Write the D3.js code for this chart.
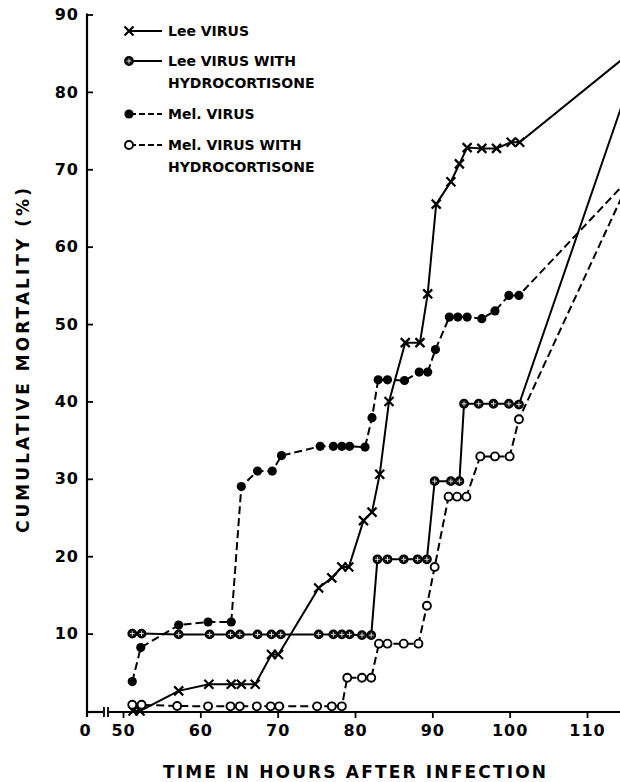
<!DOCTYPE html>
<html>
<head>
<meta charset="utf-8">
<script src="https://cdn.jsdelivr.net/npm/d3@7"></script>
<style>
    body { margin: 0; background: #fff; }
    svg { display: block; }
</style>
</head>
<body>
<svg id="chart"></svg>
<script>
// ---- data ----
const xTicks = [50, 60, 70, 80, 90, 100, 110];
const yTicks = [10, 20, 30, 40, 50, 60, 70, 80, 90];

// Lee virus
const leeHours = [51.3, 52.2, 57.2, 61.1, 64.0, 65.3, 67.1, 69.2, 70.1, 75.3, 77.0, 78.3, 79.2, 81.1, 82.2, 83.2, 84.4, 86.5, 88.4, 89.4, 90.5, 92.4, 93.5, 94.5, 96.4, 98.3, 100.2, 101.3, 120];
const leeMort = [0, 0, 2.6, 3.45, 3.45, 3.45, 3.45, 7.3, 7.3, 15.9, 17.2, 18.6, 18.6, 24.6, 25.7, 30.6, 40.0, 47.6, 47.6, 53.9, 65.5, 68.4, 70.7, 72.8, 72.7, 72.7, 73.5, 73.5, 88.6];

// Lee virus with hydrocortisone
const leeHcHours = [51.2, 52.4, 57.2, 61.2, 63.9, 65.1, 67.4, 69.2, 70.4, 75.3, 77.2, 78.3, 79.3, 80.9, 82.1, 82.9, 84.2, 86.3, 88.1, 89.3, 90.3, 92.4, 93.5, 94.1, 96.0, 97.9, 99.9, 101.2, 118];
const leeHcMort = [10, 10, 9.9, 9.9, 9.9, 9.9, 9.9, 9.9, 9.9, 9.9, 9.9, 9.9, 9.9, 9.8, 9.8, 19.6, 19.6, 19.6, 19.6, 19.6, 29.7, 29.7, 29.7, 39.7, 39.7, 39.7, 39.7, 39.6, 88.4];

// Mel. virus
const melHours = [51.2, 52.3, 57.2, 61.0, 64.0, 65.3, 67.4, 69.3, 70.5, 75.5, 77.2, 78.3, 79.3, 81.3, 82.2, 83.0, 84.2, 86.4, 88.3, 89.4, 90.4, 92.2, 93.3, 94.5, 96.4, 98.1, 99.9, 101.2, 120];
const melMort = [3.8, 8.2, 11.1, 11.5, 11.5, 29.0, 31.0, 31.0, 33.0, 34.2, 34.2, 34.2, 34.2, 34.1, 37.9, 42.8, 42.8, 42.7, 43.8, 43.8, 46.7, 50.9, 50.9, 50.9, 50.7, 51.7, 53.7, 53.7, 73.6];

// Mel. virus with hydrocortisone
const melHcHours = [51.2, 52.4, 57.0, 61.0, 63.9, 65.1, 67.3, 69.1, 70.2, 75.1, 77.0, 78.3, 79.0, 80.9, 82.1, 83.1, 84.2, 86.3, 88.2, 89.3, 90.3, 92.1, 93.2, 94.4, 96.2, 98.1, 100.0, 101.2, 120];
const melHcMort = [0.8, 0.8, 0.65, 0.6, 0.6, 0.6, 0.6, 0.6, 0.6, 0.6, 0.6, 0.6, 4.3, 4.3, 4.3, 8.7, 8.7, 8.7, 8.7, 13.6, 18.6, 27.7, 27.7, 27.7, 32.9, 32.9, 32.9, 37.7, 78.3];

const legendLines = [
    ["Lee VIRUS"],
    ["Lee VIRUS WITH", "HYDROCORTISONE"],
    ["Mel. VIRUS"],
    ["Mel. VIRUS WITH", "HYDROCORTISONE"]
];

const W = 620, H = 782;
const svg = d3.select("#chart").attr("width", W).attr("height", H);

const x = d3.scaleLinear().domain([50, 110]).range([123, 587]);
const y = d3.scaleLinear().domain([0, 90]).range([711, 14.5]);
const axisX = 87;
const FONT = "'DejaVu Sans', sans-serif";

const zip = (t, v) => t.map((d, i) => ({ t: d, v: v[i] }));
const series = [
    { data: zip(leeHours, leeMort), dash: null, marker: "x" },
    { data: zip(leeHcHours, leeHcMort), dash: null, marker: "theta" },
    { data: zip(melHours, melMort), dash: "8,4", marker: "dot" },
    { data: zip(melHcHours, melHcMort), dash: "8,4", marker: "open" }
];

// ---- axes ----
svg.append("line")
    .attr("x1", axisX).attr("x2", axisX)
    .attr("y1", y(90) - 1).attr("y2", y(0) + 6)
    .attr("stroke", "#000").attr("stroke-width", 2.2);

const yAxis = svg.append("g")
    .attr("transform", `translate(${axisX},0)`)
    .call(d3.axisLeft(y).tickValues(yTicks).tickSizeInner(-6).tickSizeOuter(0).tickPadding(8));
yAxis.select(".domain").remove();
yAxis.selectAll("line").attr("stroke", "#000").attr("stroke-width", 1.8);
yAxis.selectAll("text")
    .attr("fill", "#000")
    .style("font-family", FONT).style("font-weight", "bold")
    .style("font-size", "16px").style("letter-spacing", "1px");

// x axis: short stub from 0, break marks, then the 50..110 part
const axY = y(0) + 1;
svg.append("line").attr("x1", axisX).attr("x2", 103).attr("y1", axY).attr("y2", axY)
    .attr("stroke", "#000").attr("stroke-width", 2.2);
[104, 108].forEach(bx => {
    svg.append("line").attr("x1", bx).attr("x2", bx).attr("y1", axY - 5).attr("y2", axY + 5)
        .attr("stroke", "#000").attr("stroke-width", 1.8);
});
svg.append("line").attr("x1", 108).attr("x2", W).attr("y1", axY).attr("y2", axY)
    .attr("stroke", "#000").attr("stroke-width", 2.2);

const xAxis = svg.append("g")
    .attr("transform", `translate(0,${axY})`)
    .call(d3.axisBottom(x).tickValues(xTicks).tickSizeOuter(0).tickSize(6).tickPadding(7));
xAxis.select(".domain").remove();
xAxis.selectAll("line").attr("stroke", "#000").attr("stroke-width", 1.8);
xAxis.selectAll("text")
    .attr("fill", "#000")
    .style("font-family", FONT).style("font-weight", "bold")
    .style("font-size", "16px").style("letter-spacing", "1px");

svg.append("text")
    .attr("x", 85).attr("y", axY + 13).attr("dy", "0.71em")
    .attr("text-anchor", "middle")
    .style("font-family", FONT).style("font-weight", "bold").style("font-size", "16px")
    .text("0");

// axis titles
svg.append("text")
    .attr("x", 163).attr("y", 778)
    .attr("textLength", 383).attr("lengthAdjust", "spacing")
    .style("font-family", FONT).style("font-weight", "bold").style("font-size", "17px")
    .text("TIME IN HOURS AFTER INFECTION");

svg.append("text")
    .attr("transform", "translate(29,533) rotate(-90)")
    .attr("textLength", 345).attr("lengthAdjust", "spacing")
    .style("font-family", FONT).style("font-weight", "bold").style("font-size", "17px")
    .text("CUMULATIVE MORTALITY (%)");

// ---- lines ----
const line = d3.line().x(d => x(d.t)).y(d => y(d.v));
const plot = svg.append("g");

series.forEach(s => {
    plot.append("path")
        .datum(s.data)
        .attr("d", line)
        .attr("fill", "none")
        .attr("stroke", "#000")
        .attr("stroke-width", 2)
        .attr("stroke-dasharray", s.dash);
});

function drawMarker(g, type, cx, cy) {
    if (type === "x") {
        const r = 4.5;
        g.append("path")
            .attr("d", `M${cx - r},${cy - r}L${cx + r},${cy + r}M${cx - r},${cy + r}L${cx + r},${cy - r}`)
            .attr("stroke", "#000").attr("stroke-width", 2.2);
    } else if (type === "theta") {
        g.append("circle").attr("cx", cx).attr("cy", cy).attr("r", 4.2)
            .attr("fill", "#111").attr("stroke", "#000").attr("stroke-width", 1.4);
        g.append("path")
            .attr("d", `M${cx - 2.4},${cy}L${cx + 2.4},${cy}M${cx},${cy - 2.4}L${cx},${cy + 2.4}`)
            .attr("stroke", "#fff").attr("stroke-width", 0.8);
    } else if (type === "dot") {
        g.append("circle").attr("cx", cx).attr("cy", cy).attr("r", 4.6).attr("fill", "#000");
    } else {
        g.append("circle").attr("cx", cx).attr("cy", cy).attr("r", 4)
            .attr("fill", "#fff").attr("stroke", "#000").attr("stroke-width", 1.9);
    }
}

series.forEach(s => {
    const g = plot.append("g");
    s.data.forEach(d => drawMarker(g, s.marker, x(d.t), y(d.v)));
});

// ---- legend ----
const legendRowsY = [31, 61, 114, 145];
const legend = svg.append("g");
series.forEach((s, i) => {
    const ly = legendRowsY[i];
    legend.append("line")
        .attr("x1", 130).attr("x2", 162).attr("y1", ly).attr("y2", ly)
        .attr("stroke", "#000").attr("stroke-width", 2)
        .attr("stroke-dasharray", s.dash ? "6,3" : null);
    drawMarker(legend, s.marker, 129, ly);
    legendLines[i].forEach((txt, j) => {
        legend.append("text")
            .attr("x", 168).attr("y", ly + 5 + j * 22)
            .style("font-family", FONT).style("font-weight", "bold").style("font-size", "14px")
            .text(txt);
    });
});
</script>
</body>
</html>
